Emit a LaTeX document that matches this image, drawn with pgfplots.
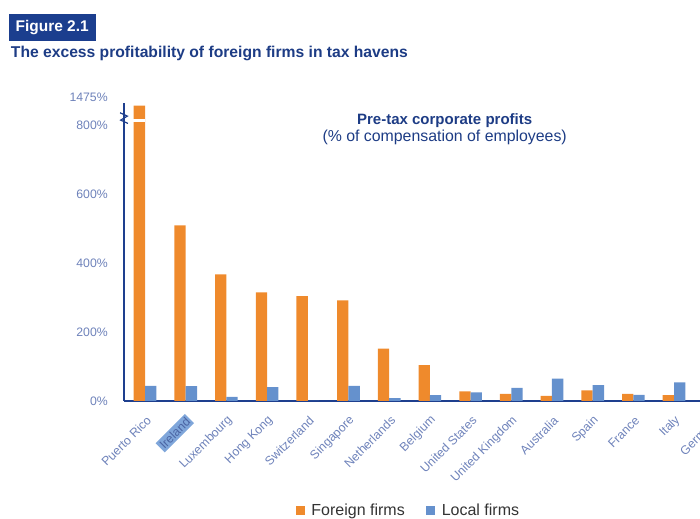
\documentclass[border=0pt]{standalone}
\usepackage{fontspec}
\setmainfont{Liberation Sans}
\usepackage{pgfplots}
\pgfplotsset{compat=1.18}
\usepackage{pgfplotstable}
\definecolor{forange}{HTML}{EF8A2C}
\definecolor{lblue}{HTML}{6591CD}
\definecolor{navy}{HTML}{1E3F8E}
\definecolor{ticky}{HTML}{6E82BA}
\definecolor{hl}{HTML}{7FA6DA}
\definecolor{titlebox}{HTML}{1B3E8E}
\definecolor{subt}{HTML}{1D3C85}
\setlength{\fboxsep}{1.5pt}

\pgfplotstableread{
idx country foreign local
0  PR 1475 44
1  IE 509  43
2  LU 367  12
3  HK 315  40
4  CH 304  0
5  SG 292  44
6  NL 152  8
7  BE 104  17
8  US 28   25
9  UK 21   38
10 AU 15   65
11 ES 31   46
12 FR 21   18
13 IT 17   54
14 DE 22   45
}\datatable

\begin{document}
\begin{tikzpicture}
\useasboundingbox (0,0) rectangle (525pt,388.5pt);
\clip (0,0) rectangle (525pt,388.5pt);

% title block
\node[fill=titlebox, text=white, font=\bfseries\fontsize{11.6}{13}\selectfont,
      anchor=north west, minimum width=65.5pt, minimum height=20pt, inner sep=0pt]
      at (6.2pt,378pt) {Figure 2.1};
\node[text=subt, font=\bfseries\fontsize{11.75}{13}\selectfont, anchor=base west, inner sep=0pt]
      at (8pt,345.5pt) {The excess profitability of foreign firms in tax havens};

\node[text=subt, font=\bfseries\fontsize{11.25}{13}\selectfont, anchor=base, inner sep=0pt]
      at (333.5pt,295.1pt) {Pre-tax corporate profits};
\node[text=subt, font=\fontsize{11.9}{13}\selectfont, anchor=base, inner sep=0pt]
      at (333.5pt,282pt) {(\% of compensation of employees)};

\begin{axis}[
  at={(93pt,87.75pt)}, anchor=south west,
  scale only axis, width=473.6pt, height=223.3pt,
  xmin=-0.516, xmax=15, ymin=0, ymax=863,
  axis x line*=bottom, axis y line*=left,
  axis line style={-, navy, line width=1.5pt},
  ybar=0pt, bar width=8.5pt,
  xtick={0,...,14},
  xticklabels={Puerto Rico,{\colorbox{hl}{\textcolor{navy!80}{Ireland}}},Luxembourg,Hong Kong,Switzerland,Singapore,Netherlands,Belgium,United States,United Kingdom,Australia,Spain,France,Italy,Germany},
  ytick={0,200,400,600,800},
  extra y ticks={863}, extra y tick labels={1475\%},
  extra y tick style={yticklabel style={yshift=4.5pt}},
  major tick length=0pt,
  tick label style={text=ticky, font=\fontsize{9.2}{10}\selectfont},
  yticklabel={\pgfmathprintnumber[assume math mode=true]{\tick}\%},
  yticklabel style={anchor=east, inner sep=0pt, xshift=-12pt},
  xticklabel style={xshift=3pt, yshift=-13pt, rotate=45, anchor=east, inner sep=0pt},
  legend style={at={(0.451,-0.368)}, anchor=center, draw=none, fill=none,
     font=\fontsize{12}{13}\selectfont, text=black!80,
     /tikz/every odd column/.append style={column sep=3pt},
     /tikz/every even column/.append style={column sep=14pt}},
  legend columns=2,
  legend image code/.code={\path[#1, draw=none] (0pt,-3.4pt) rectangle (6.75pt,3.4pt);},
]
\addplot[fill=forange, draw=none, y filter/.expression={y>800 ? 800+(y-800)*0.083 : y}]
  table[x=idx, y=foreign] {\datatable};
\addplot[fill=lblue, draw=none] table[x=idx, y=local] {\datatable};
\legend{Foreign firms, Local firms}
\fill[white] (axis cs:-0.33,808) rectangle (axis cs:0.005,816.5);
\coordinate (brk) at (axis cs:-0.516,820);
\end{axis}
\draw[navy, line width=0.9pt] (brk) ++(-3pt,4pt) -- ++(5.5pt,-2.5pt) -- ++(-5pt,-3pt) -- ++(5.5pt,-2.5pt);
\end{tikzpicture}
\end{document}
